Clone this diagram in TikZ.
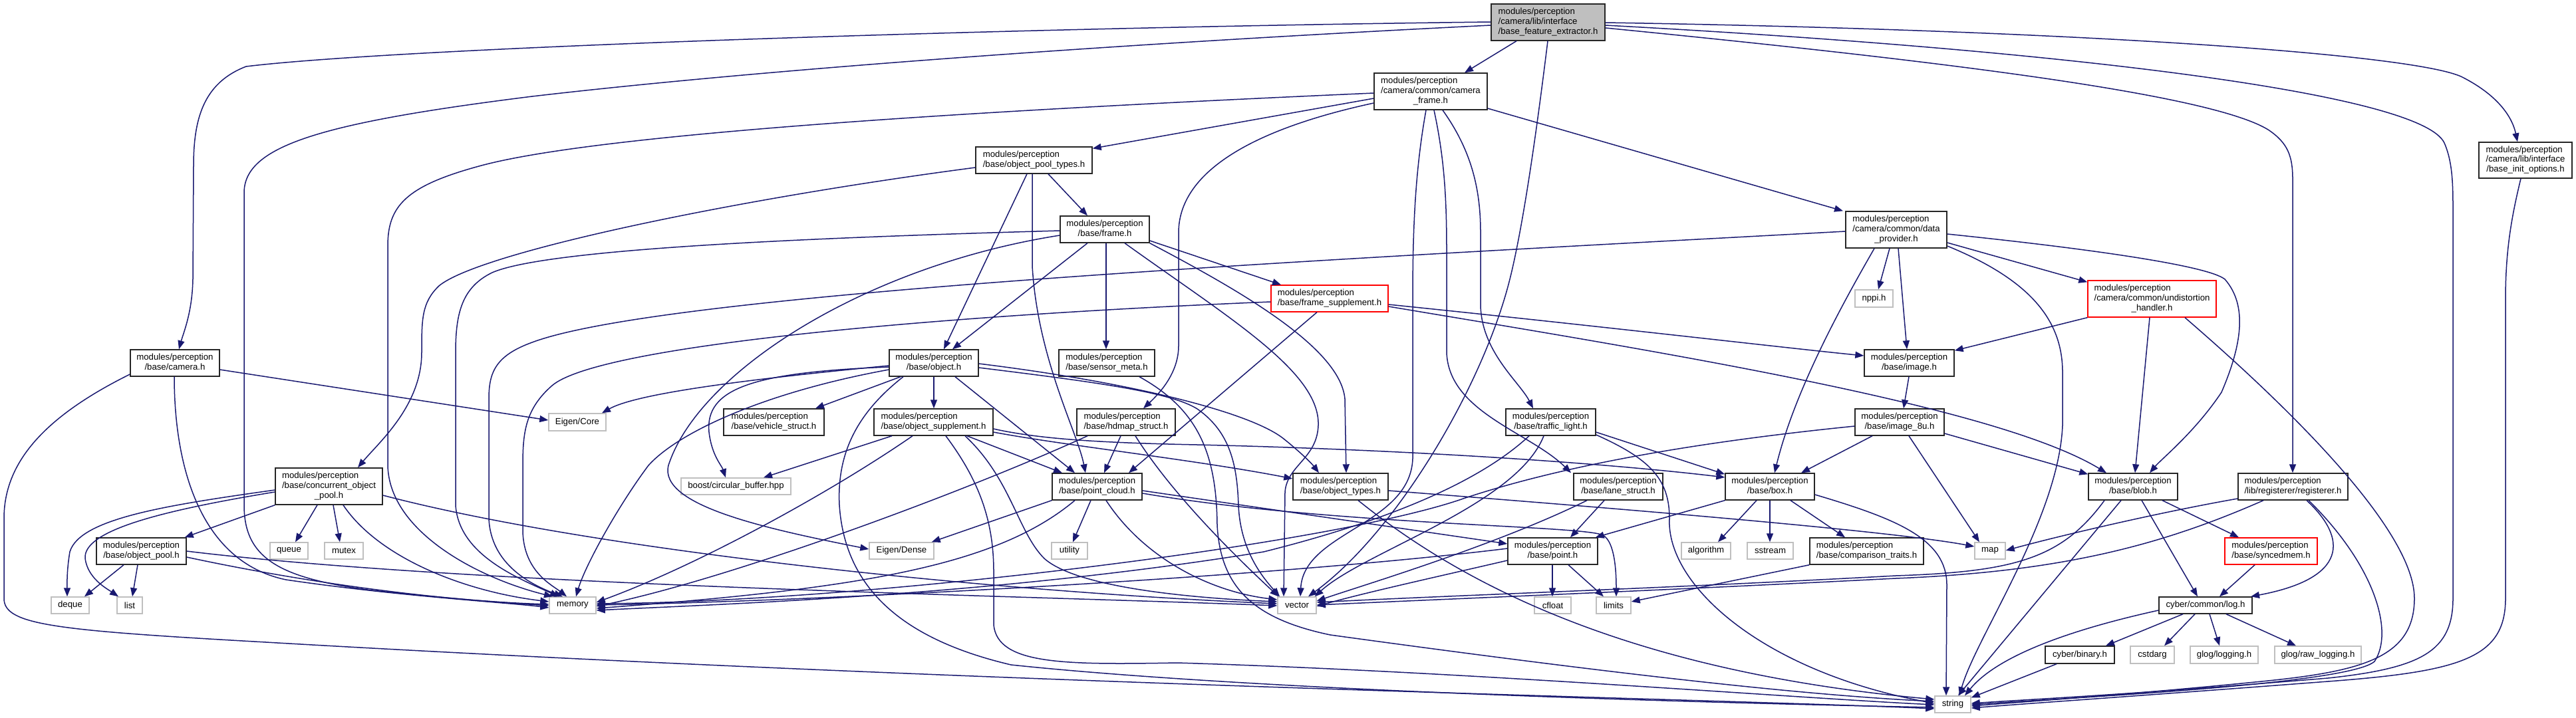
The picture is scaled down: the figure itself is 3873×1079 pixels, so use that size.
\documentclass[tikz,border=0pt]{standalone}
\usepackage{fontspec}
\setmainfont{Liberation Sans}
\usetikzlibrary{arrows.meta}
\definecolor{edgec}{HTML}{191970}
\definecolor{extgray}{HTML}{BFBFBF}
\newcommand\nodefont{\fontsize{13.2}{14.7}\selectfont}
\newcommand\twoline[2]{\begin{tabular}{@{}l@{}}#1\\\multicolumn{1}{@{}c@{}}{#2}\end{tabular}}
\newcommand\threeline[3]{\begin{tabular}{@{}l@{}}#1\\#2\\\multicolumn{1}{@{}c@{}}{#3}\end{tabular}}
\newcommand\bx[7]{\node[#6, minimum width={(#4-#2)*1pt}, minimum height={(#5-#3)*1pt}] (#1) at ({(#2+#4)/2},{(#3+#5)/2}) {#7};}
\tikzset{
  nd/.style={draw=black!85, line width=1.4pt, fill=white, inner sep=0pt, font=\nodefont},
  ext/.style={draw=extgray, line width=1.4pt, fill=white, inner sep=0pt, font=\nodefont},
  trunc/.style={draw=red, line width=1.4pt, fill=white, inner sep=0pt, font=\nodefont},
  mainst/.style={draw=black!85, line width=1.4pt, fill=extgray, inner sep=0pt, font=\nodefont},
  edg/.style={draw=edgec, line width=1.5pt, -{Triangle[length=13pt,width=10pt]}}
}
\begin{document}
\begin{tikzpicture}[x=1pt,y=-1pt]
\useasboundingbox (0,0) rectangle (3873,1079);
% nodes
\bx{main}{2242}{6}{2413}{61}{mainst}{\threeline{modules/perception}{/camera/lib/interface}{/base\_feature\_extractor.h}}
\bx{cf}{2066}{110}{2236}{165}{nd}{\threeline{modules/perception}{/camera/common/camera}{\_frame.h}}
\bx{dp}{2775}{318}{2927}{373}{nd}{\threeline{modules/perception}{/camera/common/data}{\_provider.h}}
\bx{bio}{3727}{214}{3867}{268}{nd}{\threeline{modules/perception}{/camera/lib/interface}{/base\_init\_options.h}}
\bx{opt}{1467}{221}{1642}{261}{nd}{\twoline{modules/perception}{/base/object\_pool\_types.h}}
\bx{fr}{1594}{325}{1728}{365}{nd}{\twoline{modules/perception}{/base/frame.h}}
\bx{cam}{196}{526}{330}{566}{nd}{\twoline{modules/perception}{/base/camera.h}}
\bx{ecore}{825}{622}{911}{648}{ext}{Eigen/Core}
\bx{cop}{414}{704}{575}{759}{nd}{\threeline{modules/perception}{/base/concurrent\_object}{\_pool.h}}
\bx{op}{145}{809}{280}{849}{nd}{\twoline{modules/perception}{/base/object\_pool.h}}
\bx{deque}{77}{898}{134}{923}{ext}{deque}
\bx{list}{176}{898}{214}{923}{ext}{list}
\bx{queue}{406}{816}{463}{841}{ext}{queue}
\bx{mutex}{488}{816}{546}{841}{ext}{mutex}
\bx{memory}{826}{898}{896}{923}{ext}{memory}
\bx{fs}{1911}{429}{2087}{469}{trunc}{\twoline{modules/perception}{/base/frame\_supplement.h}}
\bx{obj}{1337}{526}{1471}{566}{nd}{\twoline{modules/perception}{/base/object.h}}
\bx{sm}{1592}{526}{1736}{566}{nd}{\twoline{modules/perception}{/base/sensor\_meta.h}}
\bx{vs}{1088}{615}{1239}{655}{nd}{\twoline{modules/perception}{/base/vehicle\_struct.h}}
\bx{os}{1314}{615}{1493}{655}{nd}{\twoline{modules/perception}{/base/object\_supplement.h}}
\bx{hd}{1619}{615}{1767}{655}{nd}{\twoline{modules/perception}{/base/hdmap\_struct.h}}
\bx{boost}{1024}{719}{1189}{744}{ext}{boost/circular\_buffer.hpp}
\bx{pc}{1582}{712}{1717}{752}{nd}{\twoline{modules/perception}{/base/point\_cloud.h}}
\bx{edense}{1307}{816}{1404}{841}{ext}{Eigen/Dense}
\bx{utility}{1581}{816}{1635}{841}{ext}{utility}
\bx{vector}{1921}{898}{1979}{923}{ext}{vector}
\bx{tl}{2264}{615}{2399}{655}{nd}{\twoline{modules/perception}{/base/traffic\_light.h}}
\bx{img}{2803}{526}{2938}{566}{nd}{\twoline{modules/perception}{/base/image.h}}
\bx{nppi}{2789}{436}{2846}{462}{ext}{nppi.h}
\bx{i8}{2789}{615}{2923}{655}{nd}{\twoline{modules/perception}{/base/image\_8u.h}}
\bx{ud}{3139}{422}{3332}{477}{trunc}{\threeline{modules/perception}{/camera/common/undistortion}{\_handler.h}}
\bx{blob}{3140}{712}{3274}{752}{nd}{\twoline{modules/perception}{/base/blob.h}}
\bx{reg}{3365}{712}{3530}{752}{nd}{\twoline{modules/perception}{/lib/registerer/registerer.h}}
\bx{ot}{1944}{712}{2087}{752}{nd}{\twoline{modules/perception}{/base/object\_types.h}}
\bx{ls}{2366}{712}{2500}{752}{nd}{\twoline{modules/perception}{/base/lane\_struct.h}}
\bx{box}{2594}{712}{2728}{752}{nd}{\twoline{modules/perception}{/base/box.h}}
\bx{pt}{2267}{809}{2402}{849}{nd}{\twoline{modules/perception}{/base/point.h}}
\bx{algorithm}{2528}{816}{2602}{841}{ext}{algorithm}
\bx{sstream}{2627}{816}{2696}{841}{ext}{sstream}
\bx{ct}{2721}{809}{2892}{849}{nd}{\twoline{modules/perception}{/base/comparison\_traits.h}}
\bx{cfloat}{2307}{898}{2362}{923}{ext}{cfloat}
\bx{limits}{2400}{898}{2452}{923}{ext}{limits}
\bx{string}{2909}{1047}{2963}{1072}{ext}{string}
\bx{map}{2969}{816}{3015}{841}{ext}{map}
\bx{sync}{3345}{809}{3484}{849}{trunc}{\twoline{modules/perception}{/base/syncedmem.h}}
\bx{log}{3246}{898}{3386}{923}{nd}{cyber/common/log.h}
\bx{binary}{3075}{972}{3179}{998}{nd}{cyber/binary.h}
\bx{cstdarg}{3203}{972}{3269}{998}{ext}{cstdarg}
\bx{glog}{3293}{972}{3395}{998}{ext}{glog/logging.h}
\bx{rawlog}{3420}{972}{3550}{998}{ext}{glog/raw\_logging.h}
% edges: main
\draw[edg] (main.west |- 0,33) .. controls (1500,42) and (600,72) .. (370,100) .. controls (305,125) and (291,180) .. (291,250) -- (290,420) .. controls (289,470) and (276,500) .. (269,0 |- cam.north);
\draw[edg] (main.west |- 0,38) .. controls (1600,70) and (1100,110) .. (800,145) .. controls (480,185) and (367,220) .. (367,290) -- (367,760) .. controls (367,840) and (420,870) .. (560,888) .. controls (700,903) and (780,908) .. (memory.west |- 0,911);
\draw[edg] (2280,0 |- main.south) -- (2202,0 |- cf.north);
\draw[edg] (2327,0 |- main.south) .. controls (2310,200) and (2290,340) .. (2270,420) .. controls (2230,580) and (2100,800) .. (1967,0 |- vector.north);
\draw[edg] (main.east |- 0,34) .. controls (3100,45) and (3620,80) .. (3700,115) .. controls (3760,145) and (3778,180) .. (3785,0 |- bio.north);
\draw[edg] (main.east |- 0,38) .. controls (3100,75) and (3640,140) .. (3675,215) .. controls (3688,245) and (3688,280) .. (3688,320) -- (3688,900) .. controls (3688,980) and (3640,1005) .. (3500,1020) .. controls (3200,1045) and (3050,1052) .. (string.east |- 0,1058);
\draw[edg] (main.east |- 0,42) .. controls (2900,90) and (3320,140) .. (3410,195) .. controls (3440,215) and (3447,235) .. (3447,270) -- (3447,0 |- reg.north);
% cf
\draw[edg] (cf.west |- 0,140) .. controls (1500,165) and (900,200) .. (720,250) .. controls (610,280) and (583,310) .. (583,370) -- (583,700) .. controls (585,800) and (720,870) .. (831,0 |- memory.north);
\draw[edg] (cf.west |- 0,148) -- ([yshift=-3pt]opt.north east);
\draw[edg] (cf.west |- 0,155) .. controls (1880,195) and (1772,260) .. (1772,350) -- (1772,520) .. controls (1772,560) and (1745,590) .. (1719,0 |- hd.north);
\draw[edg] (2144,0 |- cf.south) .. controls (2127,260) and (2124,350) .. (2124,450) -- (2124,690) .. controls (2120,790) and (1960,800) .. (1955,0 |- vector.north);
\draw[edg] (2156,0 |- cf.south) .. controls (2172,240) and (2175,300) .. (2175,380) -- (2175,530) .. controls (2178,620) and (2300,650) .. (2362,0 |- ls.north);
\draw[edg] (2169,0 |- cf.south) .. controls (2215,230) and (2226,290) .. (2226,350) -- (2226,460) .. controls (2228,530) and (2285,575) .. (2305,0 |- tl.north);
\draw[edg] (cf.east |- 0,163) -- (2771,0 |- dp.north);
% opt
\draw[edg] (opt.west |- 0,252) .. controls (1100,300) and (720,380) .. (660,430) .. controls (634,455) and (634,480) .. (634,530) .. controls (634,610) and (570,665) .. (538,0 |- cop.north);
\draw[edg] (1576,0 |- opt.south) -- (1635,0 |- fr.north);
\draw[edg] (1544,0 |- opt.south) -- (1419,0 |- obj.north);
\draw[edg] (1552,0 |- opt.south) -- (1552,400) .. controls (1560,540) and (1620,650) .. (1632,0 |- pc.north);
% fr
\draw[edg] (fr.west |- 0,347) .. controls (1200,358) and (820,375) .. (740,410) .. controls (695,432) and (685,470) .. (685,530) -- (685,760) .. controls (690,835) and (780,870) .. (840,0 |- memory.north);
\draw[edg] (fr.west |- 0,354) .. controls (1300,400) and (1050,560) .. (1005,700) .. controls (990,760) and (1150,795) .. (edense.west |- 0,826);
\draw[edg] (1635,0 |- fr.south) -- (1432,0 |- obj.north);
\draw[edg] (1663,0 |- fr.south) -- (1663,0 |- sm.north);
\draw[edg] (fr.east |- 0,362) -- (1926,0 |- fs.north);
\draw[edg] (1691,0 |- fr.south) .. controls (1850,480) and (1985,560) .. (1982,640) .. controls (1980,690) and (1935,700) .. (1932,740) -- (1930,0 |- vector.north);
\draw[edg] (fr.south east) .. controls (1850,430) and (2015,520) .. (2022,600) -- (2024,0 |- ot.north);
% cam
\draw[edg] (cam.east |- 0,556) -- (ecore.west |- 0,632);
\draw[edg] (262,0 |- cam.south) .. controls (262,700) and (300,845) .. (430,872) .. controls (600,897) and (760,906) .. (memory.west |- 0,914);
\draw[edg] (cam.west |- 0,563) .. controls (60,630) and (6,700) .. (6,780) -- (6,900) .. controls (6,940) and (80,948) .. (400,966) .. controls (1500,1030) and (2600,1052) .. (string.west |- 0,1066);
% cop
\draw[edg] (cop.south west) -- ([xshift=-3pt]op.north east);
\draw[edg] (477,0 |- cop.south) -- (444,0 |- queue.north);
\draw[edg] (501,0 |- cop.south) -- (511,0 |- mutex.north);
\draw[edg] (516,0 |- cop.south) .. controls (570,840) and (700,890) .. (memory.west |- 0,905);
\draw[edg] (cop.west |- 0,737) .. controls (250,760) and (120,780) .. (105,830) .. controls (100,860) and (101,880) .. (101,0 |- deque.north);
\draw[edg] (cop.west |- 0,740) .. controls (230,770) and (125,800) .. (128,840) .. controls (132,870) and (160,885) .. (178,0 |- list.north);
\draw[edg] (cop.east |- 0,745) .. controls (900,830) and (1500,890) .. (vector.west |- 0,908);
% op
\draw[edg] (186,0 |- op.south) -- (127,0 |- deque.north);
\draw[edg] (207,0 |- op.south) -- (199,0 |- list.north);
\draw[edg] (op.east |- 0,838) .. controls (500,885) and (700,905) .. (memory.west |- 0,909);
\draw[edg] (op.east |- 0,829) .. controls (700,880) and (1500,895) .. (vector.west |- 0,911);
% fs
\draw[edg] (fs.west |- 0,454) .. controls (1400,475) and (900,520) .. (830,580) .. controls (790,615) and (786,650) .. (786,700) -- (786,800) .. controls (788,860) and (830,880) .. (852,0 |- memory.north);
\draw[edg] (1980,0 |- fs.south) -- (1697,0 |- pc.north);
\draw[edg] (fs.east |- 0,458) .. controls (2400,490) and (2700,525) .. (img.west |- 0,535);
\draw[edg] (fs.east |- 0,461) .. controls (2500,530) and (3000,610) .. (3167,0 |- blob.north);
% obj
\draw[edg] (obj.west |- 0,550) .. controls (1150,568) and (960,590) .. (905,0 |- ecore.north);
\draw[edg] (obj.west |- 0,552) .. controls (1130,560) and (1060,585) .. (1066,650) .. controls (1070,685) and (1085,700) .. (1091,0 |- boost.north);
\draw[edg] (obj.west |- 0,556) .. controls (1150,590) and (1020,650) .. (975,700) .. controls (930,760) and (880,850) .. (866,0 |- memory.north);
\draw[edg] (1354,0 |- obj.south) -- (1226,0 |- vs.north);
\draw[edg] (1404,0 |- obj.south) -- (1404,0 |- os.north);
\draw[edg] (1436,0 |- obj.south) -- (1616,0 |- pc.north);
\draw[edg] (1358,0 |- obj.south) .. controls (1290,620) and (1258,680) .. (1262,760) .. controls (1270,880) and (1350,960) .. (1520,1000) .. controls (1900,1040) and (2600,1058) .. (string.west |- 0,1064);
\draw[edg] (obj.east |- 0,553) .. controls (1650,575) and (1760,590) .. (1800,615) .. controls (1850,650) and (1860,700) .. (1862,760) .. controls (1865,830) and (1900,870) .. (1924,0 |- vector.north);
\draw[edg] (obj.east |- 0,547) .. controls (1700,575) and (1880,620) .. (1930,660) .. controls (1955,680) and (1972,697) .. (1983,0 |- ot.north);
% sm
\draw[edg] (1713,0 |- sm.south) .. controls (1800,615) and (1829,680) .. (1830,790) .. controls (1835,880) and (1880,930) .. (2000,955) .. controls (2400,1010) and (2700,1045) .. (string.west |- 0,1055);
% os
\draw[edg] (1341,0 |- os.south) -- (1148,0 |- boost.north);
\draw[edg] (1372,0 |- os.south) .. controls (1250,740) and (1050,850) .. (memory.east |- 0,906);
\draw[edg] (1422,0 |- os.south) .. controls (1470,720) and (1494,780) .. (1494,860) -- (1494,940) .. controls (1500,1000) and (1600,1000) .. (1770,997) .. controls (2200,1010) and (2700,1050) .. (string.west |- 0,1060);
\draw[edg] (1451,0 |- os.south) .. controls (1520,720) and (1530,800) .. (1570,840) .. controls (1620,885) and (1800,900) .. (vector.west |- 0,905);
\draw[edg] (1454,0 |- os.south) -- (1597,0 |- pc.north);
\draw[edg] (os.east |- 0,645) .. controls (1560,660) and (1650,666) .. (1800,669) .. controls (2100,676) and (2400,695) .. (box.west |- 0,718);
\draw[edg] (os.east |- 0,650) .. controls (1600,670) and (1800,692) .. (ot.west |- 0,720);
% hd
\draw[edg] (1635,0 |- hd.south) .. controls (1450,740) and (1100,870) .. (memory.east |- 0,912);
\draw[edg] (1685,0 |- hd.south) -- (1660,0 |- pc.north);
\draw[edg] (1707,0 |- hd.south) .. controls (1760,740) and (1850,830) .. ([xshift=2pt]vector.north west);
% pc
\draw[edg] (pc.south west) -- ([xshift=-4pt]edense.north east);
\draw[edg] (1640,0 |- pc.south) -- (1613,0 |- utility.north);
\draw[edg] (1616,0 |- pc.south) .. controls (1500,850) and (1300,885) .. (memory.east |- 0,915);
\draw[edg] (1663,0 |- pc.south) .. controls (1720,840) and (1820,890) .. (vector.west |- 0,902);
\draw[edg] (pc.east |- 0,738) -- (pt.west |- 0,818);
\draw[edg] (pc.east |- 0,742) .. controls (2000,790) and (2380,790) .. (2410,805) .. controls (2428,815) and (2430,860) .. (2430,0 |- limits.north);
% ot
\draw[edg] (ot.east |- 0,738) .. controls (2500,770) and (2850,800) .. (map.west |- 0,822);
\draw[edg] (2042,0 |- ot.south) .. controls (2200,880) and (2450,1010) .. (string.west |- 0,1052);
% tl
\draw[edg] (2299,0 |- tl.south) .. controls (2230,720) and (2100,780) .. (1900,830) .. controls (1500,895) and (1100,908) .. (memory.east |- 0,918);
\draw[edg] (2321,0 |- tl.south) .. controls (2280,760) and (2050,830) .. ([xshift=-3pt]vector.north east);
\draw[edg] (tl.east |- 0,650) -- ([yshift=-2pt]box.north west);
\draw[edg] (tl.east |- 0,654) .. controls (2480,690) and (2510,720) .. (2510,780) .. controls (2505,880) and (2650,1010) .. (string.west |- 0,1058);
% ls
\draw[edg] (2386,0 |- ls.south) .. controls (2250,820) and (2050,880) .. (vector.east |- 0,904);
\draw[edg] (2412,0 |- ls.south) -- (2361,0 |- pt.north);
% pt
\draw[edg] (2334,0 |- pt.south) -- (2334,0 |- cfloat.north);
\draw[edg] (2358,0 |- pt.south) -- (2411,0 |- limits.north);
\draw[edg] (pt.west |- 0,825) .. controls (1900,870) and (1200,905) .. (memory.east |- 0,910);
\draw[edg] (pt.west |- 0,843) .. controls (2150,870) and (2050,892) .. (vector.east |- 0,912);
% box
\draw[edg] (box.south west) -- ([xshift=-4pt]pt.north east);
\draw[edg] (2641,0 |- box.south) -- (2583,0 |- algorithm.north);
\draw[edg] (2661,0 |- box.south) -- (2661,0 |- sstream.north);
\draw[edg] (2692,0 |- box.south) -- (2774,0 |- ct.north);
\draw[edg] (box.east |- 0,744) .. controls (2850,780) and (2927,810) .. (2927,880) -- (2926,0 |- string.north);
% ct
\draw[edg] (ct.south west) -- (limits.east |- 0,905);
% dp
\draw[edg] (dp.west |- 0,348) .. controls (2000,390) and (1000,440) .. (800,515) .. controls (745,535) and (735,560) .. (735,600) -- (735,780) .. controls (738,850) and (800,880) .. (846,0 |- memory.north);
\draw[edg] (2818,0 |- dp.south) .. controls (2780,440) and (2700,580) .. (2668,0 |- box.north);
\draw[edg] (2841,0 |- dp.south) -- (2824,0 |- nppi.north);
\draw[edg] (2854,0 |- dp.south) -- (2867,0 |- img.north);
\draw[edg] (dp.east |- 0,370) .. controls (3050,420) and (3101,480) .. (3101,560) -- (3101,640) .. controls (3095,780) and (2970,960) .. (2946,0 |- string.north);
\draw[edg] (dp.east |- 0,365) -- ([yshift=-3pt]ud.north west);
\draw[edg] (dp.east |- 0,352) .. controls (3150,375) and (3320,400) .. (3345,420) .. controls (3380,460) and (3370,520) .. (3340,590) .. controls (3300,650) and (3250,690) .. (3232,0 |- blob.north);
% img, i8
\draw[edg] (2870,0 |- img.south) -- (2862,0 |- i8.north);
\draw[edg] (i8.west |- 0,641) .. controls (2550,665) and (2350,700) .. (2200,750) .. controls (2000,820) and (1300,905) .. (memory.east |- 0,908);
\draw[edg] (2815,0 |- i8.south) -- (2708,0 |- box.north);
\draw[edg] (2870,0 |- i8.south) -- (2976,0 |- map.north);
\draw[edg] (i8.east |- 0,652) -- ([yshift=-2pt]blob.north west);
% ud
\draw[edg] (ud.south west) -- ([yshift=-2pt]img.north east);
\draw[edg] (3232,0 |- ud.south) -- (3210,0 |- blob.north);
\draw[edg] (3285,0 |- ud.south) .. controls (3450,620) and (3630,800) .. (3630,900) .. controls (3630,990) and (3550,1010) .. (3400,1025) .. controls (3200,1045) and (3050,1055) .. (string.east |- 0,1062);
% blob
\draw[edg] (3164,0 |- blob.south) .. controls (3100,840) and (3030,860) .. (2850,866) .. controls (2500,885) and (2200,895) .. (vector.east |- 0,906);
\draw[edg] (3189,0 |- blob.south) -- (2944,0 |- string.north);
\draw[edg] (3220,0 |- blob.south) -- (3304,0 |- log.north);
\draw[edg] (3251,0 |- blob.south) -- (3366,0 |- sync.north);
% reg
\draw[edg] (reg.west |- 0,750) .. controls (3250,770) and (3100,805) .. (map.east |- 0,828);
\draw[edg] (3403,0 |- reg.south) .. controls (3250,820) and (3100,860) .. (2850,870) .. controls (2500,888) and (2200,900) .. (vector.east |- 0,910);
\draw[edg] (3468,0 |- reg.south) .. controls (3530,810) and (3530,870) .. (3384,0 |- log.north);
\draw[edg] (3471,0 |- reg.south) .. controls (3570,850) and (3600,950) .. (3570,995) .. controls (3530,1030) and (3100,1050) .. (string.east |- 0,1060);
% sync
\draw[edg] (3390,0 |- sync.south) -- (3337,0 |- log.north);
% log
\draw[edg] (3282,0 |- log.south) -- (3166,0 |- binary.north);
\draw[edg] (3300,0 |- log.south) -- (3254,0 |- cstdarg.north);
\draw[edg] (3322,0 |- log.south) -- (3337,0 |- glog.north);
\draw[edg] (3347,0 |- log.south) -- (3452,0 |- rawlog.north);
\draw[edg] (log.west |- 0,918) .. controls (3100,950) and (3000,990) .. (2954,0 |- string.north);
% binary
\draw[edg] (3092,0 |- binary.south) -- ([yshift=-3pt]string.north east);
% bio
\draw[edg] (3790,0 |- bio.south) .. controls (3775,330) and (3767,380) .. (3767,450) -- (3767,900) .. controls (3767,990) and (3700,1010) .. (3500,1025) .. controls (3200,1048) and (3050,1058) .. (string.east |- 0,1065);
\end{tikzpicture}
\end{document}
